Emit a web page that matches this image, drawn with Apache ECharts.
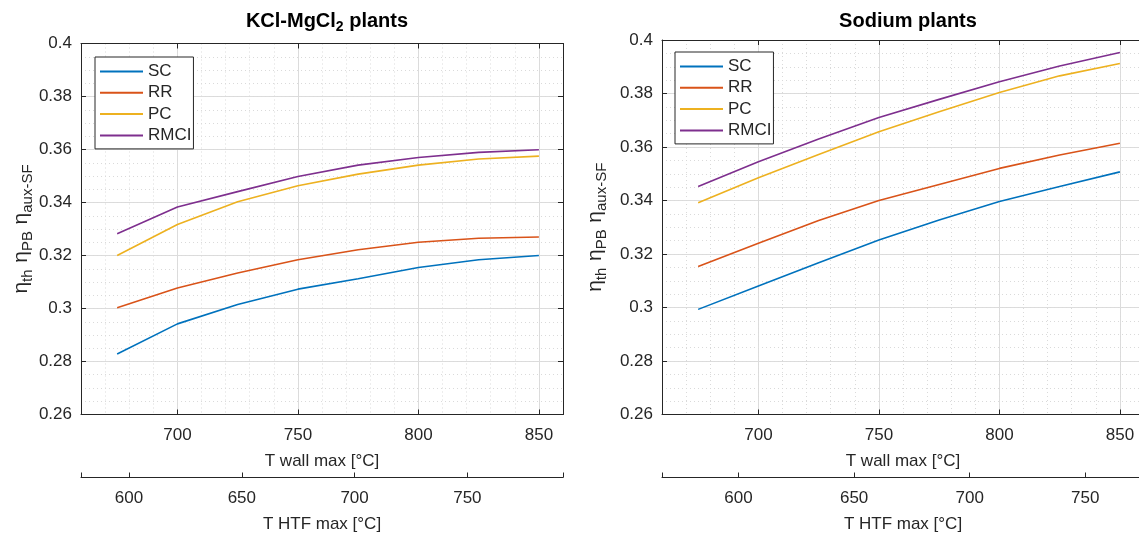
<!DOCTYPE html>
<html>
<head>
<meta charset="utf-8">
<script src="https://cdn.jsdelivr.net/npm/echarts@6/dist/echarts.min.js"></script>
<style>
  html, body { margin: 0; padding: 0; background: #fff; }
  #chart { width: 1139px; height: 534px; }
</style>
</head>
<body>
<div id="chart"></div>
<script>
// x values (T wall max, °C)
const wallT = [675, 700, 725, 750, 775, 800, 825, 850]

// KCl-MgCl2 plants
const kclSC = [0.2828, 0.2942, 0.3015, 0.3073, 0.3112, 0.3155, 0.3184, 0.3200]
const kclRR = [0.3003, 0.3077, 0.3134, 0.3184, 0.3222, 0.3250, 0.3265, 0.3270]
const kclPC = [0.3200, 0.3317, 0.3403, 0.3463, 0.3507, 0.3541, 0.3564, 0.3575]
const kclRMCI = [0.3282, 0.3383, 0.3441, 0.3498, 0.3541, 0.3570, 0.3589, 0.3599]

// Sodium plants
const naSC = [0.2993, 0.3080, 0.3167, 0.3252, 0.3327, 0.3396, 0.3452, 0.3507]
const naRR = [0.3153, 0.3240, 0.3325, 0.3400, 0.3460, 0.3520, 0.3570, 0.3614]
const naPC = [0.3392, 0.3485, 0.3572, 0.3657, 0.3732, 0.3804, 0.3866, 0.3912]
const naRMCI = [0.3452, 0.3545, 0.3630, 0.3710, 0.3778, 0.3844, 0.3903, 0.3953]

const seriesNames = ['SC', 'RR', 'PC', 'RMCI']
const wallTicks = [700, 750, 800, 850]
const htfTicks = [600, 650, 700, 750]
const wallRange = [660, 860]
const htfRangeKcl = [578.7, 792.4]
const htfRangeNa = [566.9, 775.4]
const effRange = [0.26, 0.4]

const colors = ['#0072BD', '#D95319', '#EDB120', '#7E2F8E']
const ink = '#262626'
const font = 'Liberation Sans, Arial, Helvetica, sans-serif'

const grids = [
  { left: 81, top: 43.5, width: 482, height: 371, outerBoundsMode: 'none' },
  { left: 662, top: 40, width: 482, height: 374.5, outerBoundsMode: 'none' },
]

const pick = (ticks) => (v) => (ticks.includes(Math.round(v)) ? String(Math.round(v)) : '')

const xAxesFor = (g, htfRange) => [
  // T wall max
  {
    gridIndex: g, type: 'value', position: 'bottom', min: wallRange[0], max: wallRange[1], splitNumber: 4,
    name: 'T wall max [°C]', nameLocation: 'middle', nameGap: 38,
    nameTextStyle: { color: ink, fontSize: 17, fontFamily: font },
    axisLine: { lineStyle: { color: ink, width: 1 } },
    axisTick: { inside: true, length: 5, lineStyle: { color: ink } },
    axisLabel: { color: ink, fontSize: 17, fontFamily: font, margin: 12, formatter: pick(wallTicks) },
    splitLine: { show: true, lineStyle: { color: '#dcdcdc', width: 1 } },
  },
  // T HTF max
  {
    gridIndex: g, type: 'value', position: 'bottom', offset: 63, min: htfRange[0], max: htfRange[1], splitNumber: 4,
    name: 'T HTF max [°C]', nameLocation: 'middle', nameGap: 38,
    nameTextStyle: { color: ink, fontSize: 17, fontFamily: font },
    axisLine: { lineStyle: { color: ink, width: 1 } },
    axisTick: { inside: true, length: 5, lineStyle: { color: ink } },
    axisLabel: { color: ink, fontSize: 17, fontFamily: font, margin: 12, formatter: pick(htfTicks) },
    splitLine: { show: false },
  },
  // box top
  {
    gridIndex: g, type: 'value', position: 'top', min: wallRange[0], max: wallRange[1], splitNumber: 4,
    axisLine: { lineStyle: { color: ink, width: 1 } },
    axisTick: { inside: true, length: 5, lineStyle: { color: ink } },
    axisLabel: { show: false }, splitLine: { show: false },
  },
  // minor grid
  {
    gridIndex: g, type: 'value', position: 'bottom', min: wallRange[0], max: wallRange[1], interval: 10,
    axisLine: { show: false }, axisTick: { show: false }, axisLabel: { show: false },
    splitLine: { show: true, lineStyle: { color: '#dadada', type: [1, 3], width: 1 } },
  },
]

const yName = '{e|η}{s|th}  {e|η}{s|PB}  {e|η}{s|aux-SF}'
const yNameStyle = {
  color: ink, fontFamily: font,
  rich: {
    e: { fontSize: 21, color: ink, fontFamily: font, padding: [0, 0, 4, 0] },
    s: { fontSize: 15, color: ink, fontFamily: font, padding: [8, 0, 0, 0] },
  },
}

const yAxesFor = (g, gap) => [
  {
    gridIndex: g, type: 'value', position: 'left', min: effRange[0], max: effRange[1], interval: 0.02,
    name: yName, nameLocation: 'middle', nameGap: gap, nameTextStyle: yNameStyle,
    axisLine: { show: true, lineStyle: { color: ink, width: 1 } },
    axisTick: { show: true, inside: true, length: 5, lineStyle: { color: ink } },
    axisLabel: { color: ink, fontSize: 17, fontFamily: font, margin: 9, formatter: v => String(+v.toFixed(2)) },
    splitLine: { show: true, lineStyle: { color: '#dcdcdc', width: 1 } },
  },
  {
    gridIndex: g, type: 'value', position: 'right', min: effRange[0], max: effRange[1], interval: 0.02,
    axisLine: { show: true, lineStyle: { color: ink, width: 1 } },
    axisTick: { show: true, inside: true, length: 5, lineStyle: { color: ink } },
    axisLabel: { show: false }, splitLine: { show: false },
  },
  {
    gridIndex: g, type: 'value', position: 'left', min: effRange[0], max: effRange[1], interval: 0.005,
    axisLine: { show: false }, axisTick: { show: false }, axisLabel: { show: false },
    splitLine: { show: true, lineStyle: { color: '#dadada', type: [1, 3], width: 1 } },
  },
]

const makeSeries = (vals, xIdx, yIdx) => vals.map((arr, i) => ({
  name: seriesNames[i],
  type: 'line',
  xAxisIndex: xIdx,
  yAxisIndex: yIdx,
  data: wallT.map((t, k) => [t, arr[k]]),
  showSymbol: false,
  symbol: 'none',
  color: colors[i],
  lineStyle: { width: 1.6, color: colors[i] },
  z: 5,
}))

const legendFor = (left, top) => ({
  orient: 'vertical', left, top,
  data: seriesNames,
  icon: 'rect', itemWidth: 43, itemHeight: 2, itemGap: 4.3,
  padding: [6, 2, 5, 5],
  backgroundColor: '#fff', borderColor: ink, borderWidth: 1, borderRadius: 0,
  textStyle: { color: ink, fontSize: 17, fontFamily: font },
  z: 10,
})

const titleFor = (text, x) => ({
  text, left: x, top: 6, textAlign: 'center',
  textStyle: {
    color: '#000', fontSize: 20, fontWeight: 'bold', fontFamily: font,
    rich: {
      a: { color: '#000', fontSize: 20, fontWeight: 'bold', fontFamily: font, padding: [0, 0, 4, 0] },
      b: { color: '#000', fontSize: 14, fontWeight: 'bold', fontFamily: font, padding: [9, 0, 0, 0] },
    },
  },
})

const chart = echarts.init(document.getElementById('chart'), null, { renderer: 'canvas' })
chart.setOption({
  backgroundColor: '#fff',
  animation: false,
  title: [
    titleFor('{a|KCl-MgCl}{b|2}{a| plants}', 322),
    titleFor('{a|Sodium plants}', 903),
  ],
  legend: [legendFor(95, 57), legendFor(675, 52)],
  grid: grids,
  xAxis: [...xAxesFor(0, htfRangeKcl), ...xAxesFor(1, htfRangeNa)],
  yAxis: [...yAxesFor(0, 44), ...yAxesFor(1, 52)],
  series: [
    ...makeSeries([kclSC, kclRR, kclPC, kclRMCI], 0, 0),
    ...makeSeries([naSC, naRR, naPC, naRMCI], 4, 3),
  ],
})
</script>
</body>
</html>
